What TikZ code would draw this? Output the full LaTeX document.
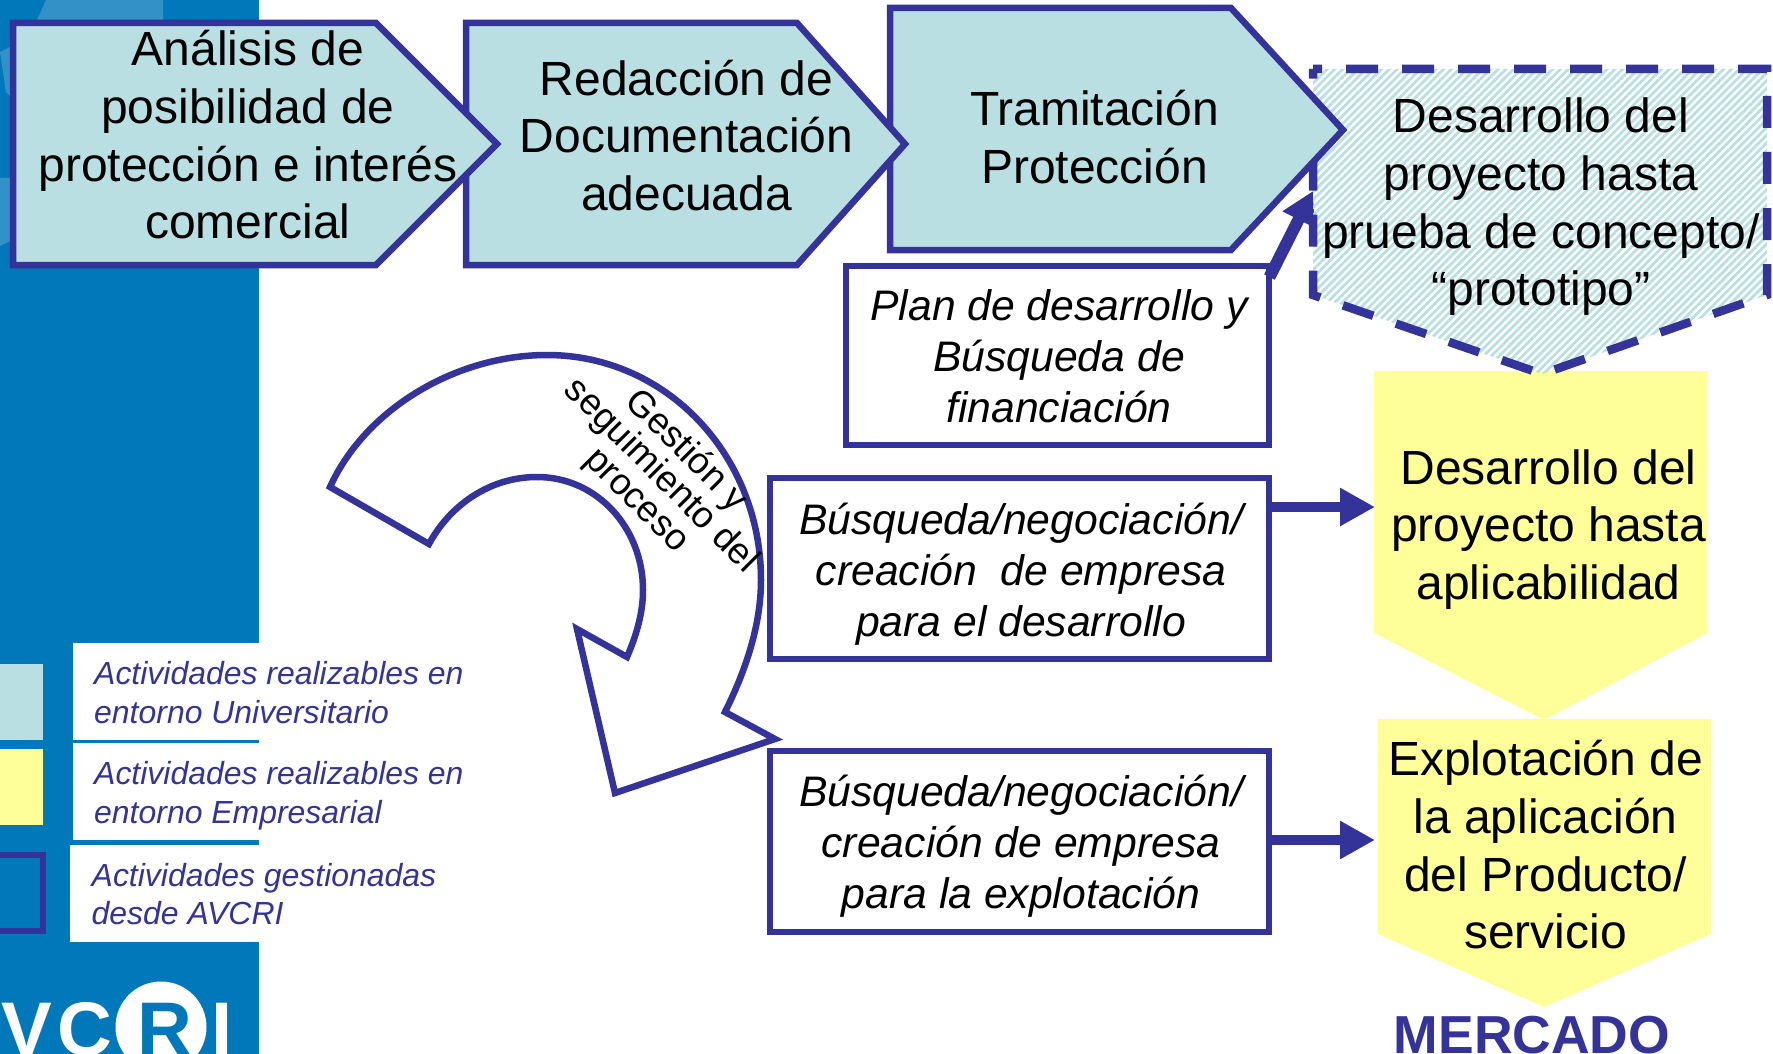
\documentclass[tikz,border=0pt]{standalone}
\usepackage{fontspec}
\setmainfont{Liberation Sans}
\usetikzlibrary{patterns.meta,arrows.meta}
\definecolor{bluebg}{RGB}{0,120,186}
\definecolor{bluelight}{RGB}{51,145,200}
\definecolor{teal1}{RGB}{185,223,227}
\definecolor{yellow1}{RGB}{255,255,153}
\definecolor{indigo1}{RGB}{51,51,153}
\tikzset{
  stage/.style={draw=indigo1,fill=teal1,line width=6.5pt,miter limit=10},
  dashedstage/.style={draw=indigo1,line width=8.5pt,dash pattern=on 32pt off 24pt,dash phase=23pt,
    pattern={Lines[angle=45,distance=5.5pt,line width=2.8pt]},pattern color=teal1},
  yellowstage/.style={fill=yellow1,draw=none},
  bigtext/.style={inner sep=0pt,align=center,text=black,font=\fontsize{48}{57.7}\selectfont},
  taskbox/.style={draw=indigo1,fill=white,line width=6pt,inner sep=0pt},
  tasktext/.style={inner sep=0pt,align=center,text=black,font=\fontsize{42.7}{51}\selectfont\itshape},
  legendtext/.style={inner sep=0pt,anchor=west,align=left,text=indigo1,
    font=\fontsize{31.95}{38.7}\selectfont\itshape},
  bigarrow/.style={draw=indigo1,line width=10pt,-{Triangle[length=35pt,width=36pt]}},
  logotext/.style={inner sep=0pt,anchor=base,font=\fontsize{76}{76}\selectfont\bfseries},
}
\begin{document}
\begin{tikzpicture}[x=1pt,y=-1pt]
\useasboundingbox (0,0) rectangle (1773,1054);
% side band
\fill[bluebg] (0,0) rectangle (259,1054);
\fill[bluelight] (37,20) -- (46,0) -- (163,0) -- (163,20) -- cycle;
\fill[bluelight] (0,52) -- (12,46) -- (12,98) -- (6,92) -- cycle;
\fill[bluelight] (0,178) -- (12,178) -- (12,240) -- (0,246) -- cycle;
% legend
\fill[white] (73,643) rectangle (259,740);
\fill[white] (73,743) rectangle (259,840);
\fill[white] (70,845) rectangle (259,942);
\fill[teal1] (0,664) rectangle (43,740);
\fill[yellow1] (0,749) rectangle (43,825);
\draw[indigo1,line width=5.5pt] (-5,855) -- (43,855) -- (43,931) -- (-5,931);
\node[legendtext] (leg1) at (94,692.5) {Actividades realizables en\\entorno Universitario};
\node[legendtext] (leg2) at (94,796) {Actividades realizables en\\entorno Empresarial};
\node[legendtext] (leg3) at (91.5,894) {Actividades gestionadas\\desde AVCRI};
% logo
\fill[white] (161,1027) circle (45.5);
\node[logotext,text=white] (logoa) at (27,1055) {V};
\node[logotext,text=white] (logob) at (85,1055) {C};
\node[logotext,text=bluebg] (logoc) at (165,1055) {R};
\node[logotext,text=white] (logod) at (222,1055) {I};
% yellow stages
\fill[yellowstage] (1374,371) -- (1707,371) -- (1707,633) -- (1544,720) -- (1374,633) -- cycle;
\fill[yellowstage] (1378,719) -- (1711,719) -- (1711,934) -- (1544,1007) -- (1378,934) -- cycle;
% plan box and its connector (under the dashed stage)
\node[taskbox,minimum width=423pt,minimum height=179pt] (plan) at (1057,355.5) {};
\node[tasktext] (plant) at (1059,356) {Plan de desarrollo y\\Búsqueda de\\financiación};
\coordinate (plantail) at ([shift={(-2,14)}]plan.north east);
\coordinate (dashin) at (1313,191);
\draw[draw=indigo1,line width=12pt,-{Triangle[length=32pt,width=34pt]}] (plantail) -- (dashin);
% main stages, last first
\draw[dashedstage] (1313,69) -- (1767,69) -- (1767,295) -- (1542,374) -- (1313,295) -- cycle;
\draw[stage] (890,8) -- (1231,8) -- (1343,130) -- (1231,250) -- (890,250) -- cycle;
\draw[stage] (466,23) -- (797,23) -- (905,144) -- (797,265) -- (466,265) -- cycle;
\draw[stage] (13,23) -- (376,23) -- (497,144) -- (376,265) -- (13,265) -- cycle;
\node[bigtext] (t1) at (248,135) {Análisis de\\posibilidad de\\protección e interés\\comercial};
\node[bigtext] (t2) at (686.5,135.5) {Redacción de\\Documentación\\adecuada};
\node[bigtext] (t3) at (1094.5,137) {Tramitación\\Protección};
\node[bigtext] (t4) at (1541,207) {Desarrollo del\\proyecto hasta\\prueba de concepto/\\“prototipo”};
\node[bigtext] (t5) at (1548.5,529.5) {Desarrollo del\\proyecto hasta\\aplicabilidad};
\node[bigtext] (t6) at (1545.5,845) {Explotación de\\la aplicación\\del Producto/\\servicio};
% boxes
\node[taskbox,minimum width=499pt,minimum height=181pt] (b2) at (1019,568.5) {};
\node[taskbox,minimum width=499pt,minimum height=181pt] (b3) at (1019,841.5) {};
\node[tasktext] (b2t) at (1021,574) {Búsqueda/negociación/\\creación\ \ de empresa\\para el desarrollo};
\node[tasktext] (b3t) at (1021,846) {Búsqueda/negociación/\\creación de empresa\\para la explotación};
\coordinate (y1) at (1375,507);
\coordinate (y2) at (1375,840);
\draw[bigarrow] (b2.east |- y1) -- (y1);
\draw[bigarrow] (b3.east |- y2) -- (y2);
% curved arrow
\draw[draw=indigo1,fill=white,line width=6.5pt,miter limit=10]
  (330,487) .. controls (366,408) and (457,355) .. (547,355)
  .. controls (667,355) and (761,456) .. (761,580)
  .. controls (761,626) and (745,672) .. (725,712)
  -- (775,739) -- (615,793) -- (577,629) -- (627,657)
  .. controls (637,634) and (643,612) .. (643,590)
  .. controls (643,528) and (597,477) .. (537,477)
  .. controls (490,477) and (450,505) .. (429,544)
  -- cycle;
\node[inner sep=0pt,align=center,rotate=-45,font=\fontsize{36.8}{35}\selectfont] (curve) at (661,476)
  {Gestión y\\seguimiento del\\proceso};
% market
\node[inner sep=0pt,text=indigo1,font=\fontsize{53.5}{53.5}\selectfont\bfseries] (market) at (1532,1035) {MERCADO};
\end{tikzpicture}
\end{document}
